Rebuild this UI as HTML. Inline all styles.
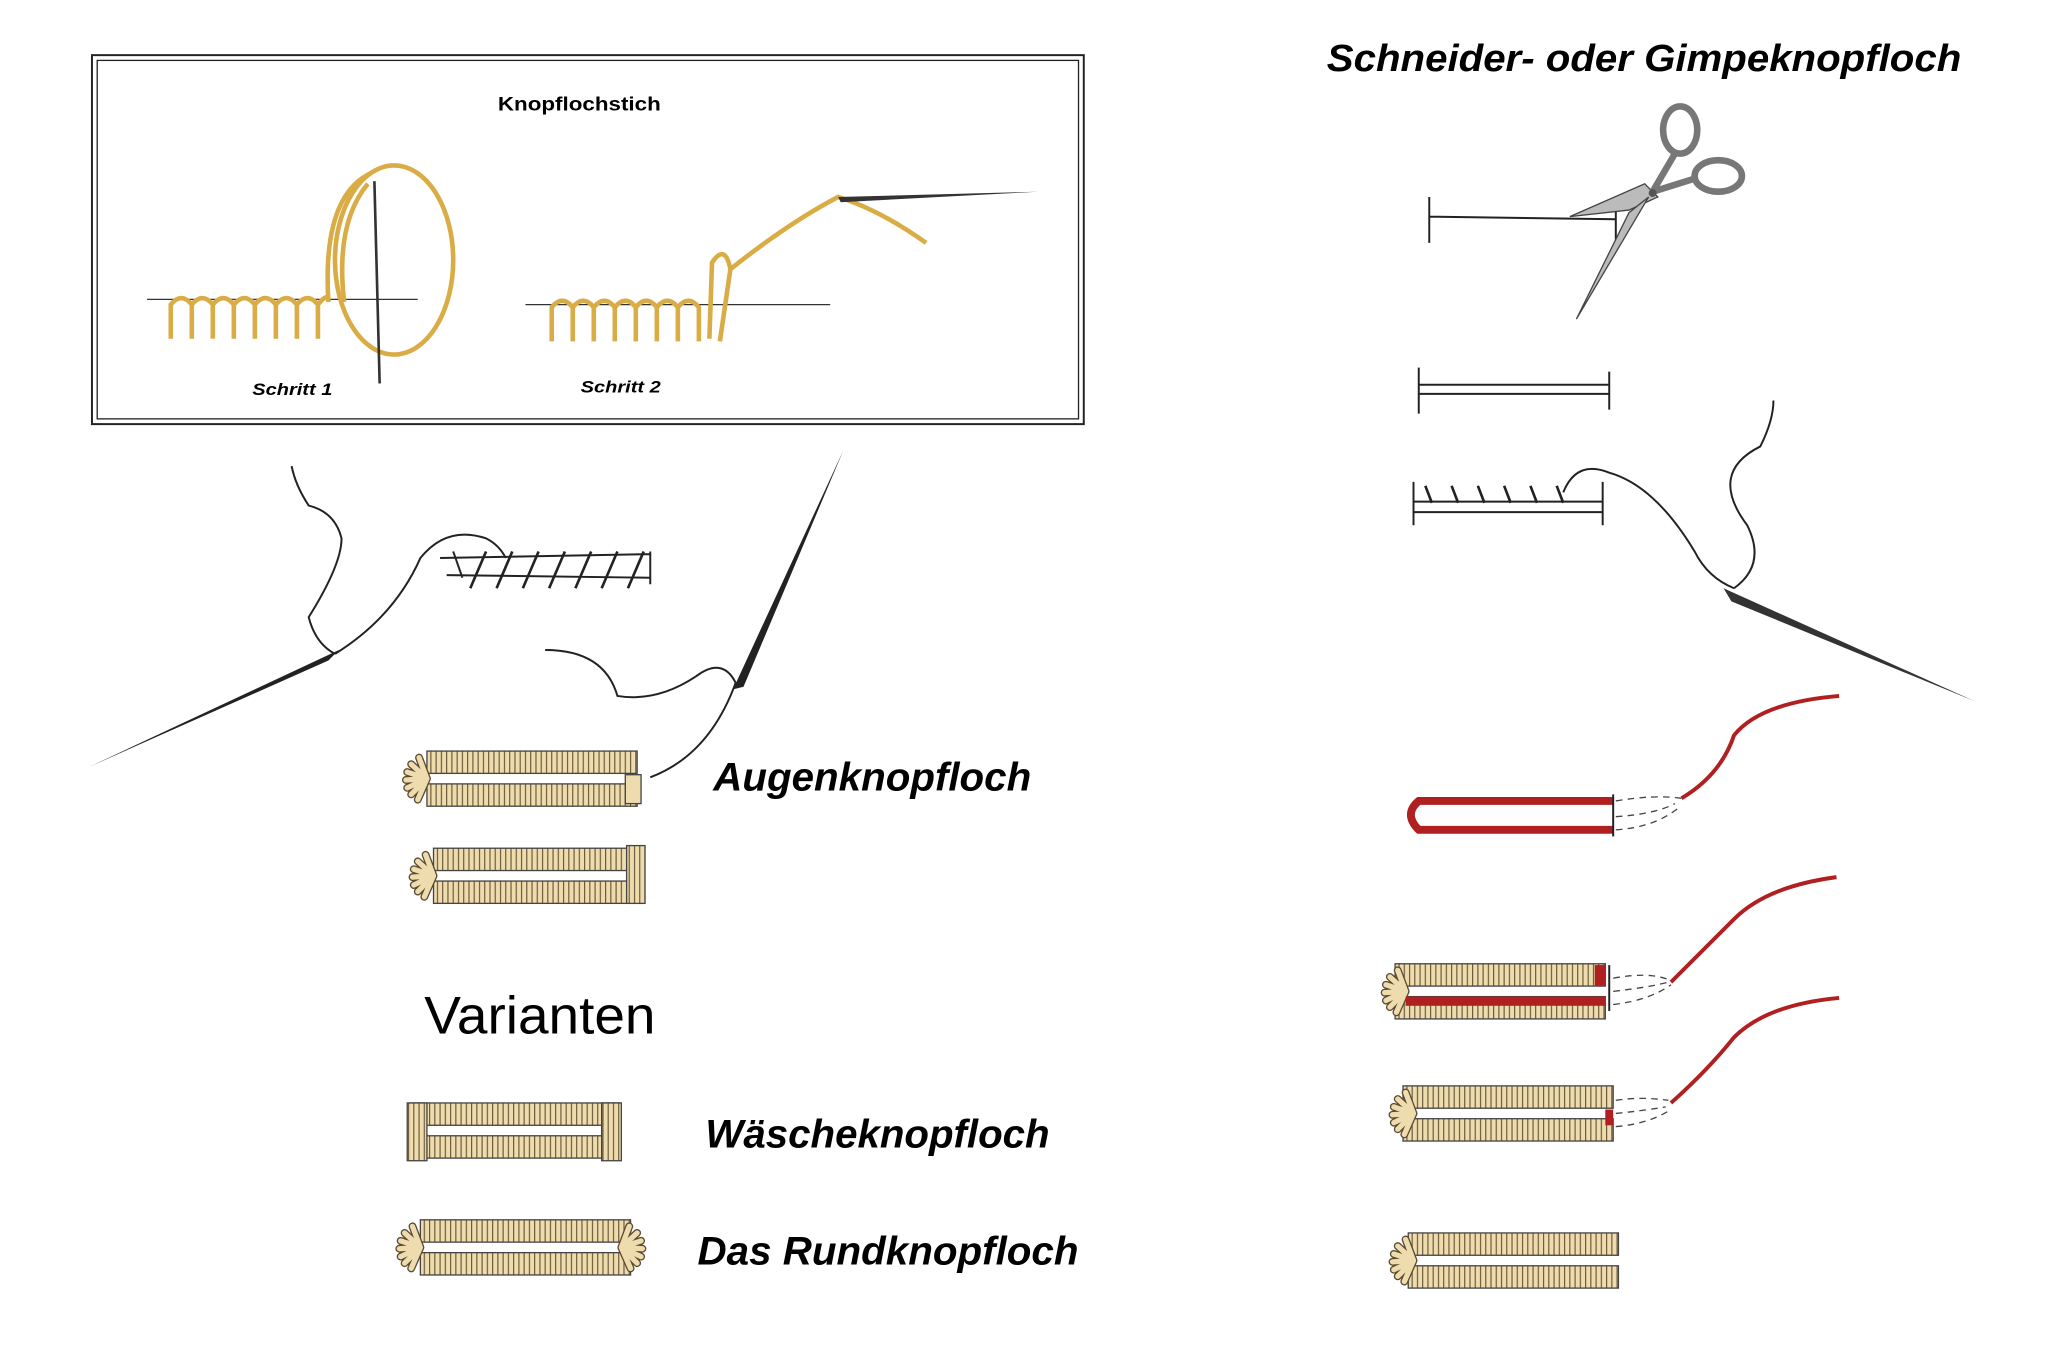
<!DOCTYPE html>
<html><head><meta charset="utf-8"><style>
html,body{margin:0;padding:0;background:#fff}
svg{display:block}
text{font-family:"Liberation Sans",sans-serif}
</style></head><body>
<svg width="2048" height="1359" viewBox="0 0 1559 1035" preserveAspectRatio="none" xmlns="http://www.w3.org/2000/svg">
<defs>
<pattern id="st" width="4" height="20" patternUnits="userSpaceOnUse">
<rect width="4" height="20" fill="#efdcae"/><line x1="3" y1="0" x2="3" y2="20" stroke="#6b5a3a" stroke-width="0.9"/>
</pattern>
<g id="bh">
<rect x="0" y="0" width="160" height="17" fill="url(#st)" stroke="#444" stroke-width="1"/>
<rect x="0" y="25" width="160" height="17" fill="url(#st)" stroke="#444" stroke-width="1"/>
</g>
<g id="fan">
<path d="M8,21 L-4,10 M8,21 L-7,16 M8,21 L-8,22 M8,21 L-7,28 M8,21 L-4,33 M8,21 L1,37 M8,21 L2,5" stroke="#5a4a30" stroke-width="6" stroke-linecap="round"/>
<path d="M8,21 L-4,10 M8,21 L-7,16 M8,21 L-8,22 M8,21 L-7,28 M8,21 L-4,33 M8,21 L1,37 M8,21 L2,5" stroke="#efdcae" stroke-width="4" stroke-linecap="round"/>
</g>
</defs>
<rect width="1559" height="1035" fill="#fff"/>
<rect x="70" y="42" width="755" height="281" fill="none" stroke="#222" stroke-width="1.5"/>
<rect x="74" y="46" width="747" height="273" fill="none" stroke="#222" stroke-width="1"/>
<text x="379" y="84" font-size="15" font-weight="bold" textLength="124" lengthAdjust="spacingAndGlyphs">Knopflochstich</text>
<text x="192" y="301" font-size="13" font-weight="bold" font-style="italic" textLength="61" lengthAdjust="spacingAndGlyphs">Schritt 1</text>
<text x="442" y="299" font-size="13" font-weight="bold" font-style="italic" textLength="61" lengthAdjust="spacingAndGlyphs">Schritt 2</text>
<line x1="112" y1="228" x2="318" y2="228" stroke="#333" stroke-width="1"/>
<path d="M130,258 L130,232 Q138,222 146,232 L146,258 M146,232 Q154,222 162,232 L162,258 M162,232 Q170,222 178,232 L178,258 M178,232 Q186,222 194,232 L194,258 M194,232 Q202,222 210,232 L210,258 M210,232 Q218,222 226,232 L226,258 M226,232 Q234,222 242,232 L242,258 M242,232 Q250,222 250,230" fill="none" stroke="#d9ac45" stroke-width="3.5"/>
<ellipse cx="300" cy="198" rx="45" ry="72" fill="none" stroke="#d9ac45" stroke-width="3.5"/>
<path d="M250,230 Q245,150 282,132 M262,230 Q255,170 280,140" fill="none" stroke="#d9ac45" stroke-width="3.5"/>
<line x1="285" y1="138" x2="289" y2="292" stroke="#333" stroke-width="2"/>
<line x1="400" y1="232" x2="632" y2="232" stroke="#333" stroke-width="1"/>
<path d="M420,260 L420,234 Q428,224 436,234 L436,260 M436,234 Q444,224 452,234 L452,260 M452,234 Q460,224 468,234 L468,260 M468,234 Q476,224 484,234 L484,260 M484,234 Q492,224 500,234 L500,260 M500,234 Q508,224 516,234 L516,260 M516,234 Q524,224 532,234 L532,260 M540,258 L542,200 Q552,185 556,205 L548,260 M556,205 Q600,170 638,150 Q670,160 705,185" fill="none" stroke="#d9ac45" stroke-width="3.5"/>
<path d="M638,150 L790,146 L640,154 Z" fill="#333"/>
<text x="1010" y="54" font-size="29" font-weight="bold" font-style="italic" textLength="483" lengthAdjust="spacingAndGlyphs">Schneider- oder Gimpeknopfloch</text>
<!-- scissors -->
<path d="M1088,150 L1088,185 M1088,165 L1230,167 M1230,155 L1230,185" stroke="#222" stroke-width="1.5" fill="none"/>
<path d="M1195,165 L1252,140 L1262,150 L1240,160 Z" fill="#bbb" stroke="#444"/>
<path d="M1255,150 L1200,243 L1240,162 Z" fill="#bbb" stroke="#444"/>
<path d="M1258,146 L1275,117 M1258,146 L1290,136" stroke="#777" stroke-width="5"/>
<circle cx="1258" cy="147" r="3" fill="#555"/>
<ellipse cx="1279" cy="99" rx="13" ry="18" fill="none" stroke="#777" stroke-width="5"/>
<ellipse cx="1308" cy="134" rx="18" ry="12" fill="none" stroke="#777" stroke-width="5"/>
<path d="M1080,280 L1080,315 M1225,283 L1225,312 M1080,293 L1225,293 M1080,300 L1225,300" stroke="#222" stroke-width="1.5"/>
<path d="M1076,367 L1076,400 M1220,367 L1220,400 M1076,382 L1220,382 M1076,390 L1220,390" stroke="#222" stroke-width="1.5"/>
<path d="M1085,370 L1090,383 M1105,370 L1110,383 M1125,370 L1130,383 M1145,370 L1150,383 M1165,370 L1170,383 M1185,370 L1190,383" stroke="#222" stroke-width="2"/>
<path d="M1190,375 Q1200,350 1225,360 Q1260,370 1290,420 Q1300,440 1320,448 M1320,448 Q1345,430 1330,400 Q1300,360 1340,340 Q1350,320 1350,305" fill="none" stroke="#222" stroke-width="1.5"/>
<path d="M1312,448 L1503,534 L1318,458 Z" fill="#333"/>
<path d="M1228,610 L1080,610 Q1068,620 1080,632 L1228,632" fill="none" stroke="#b02020" stroke-width="6"/>
<path d="M1228,605 L1228,637" stroke="#222" stroke-width="1.5"/>
<path d="M1230,610 Q1260,605 1280,608 M1230,622 Q1260,620 1275,612 M1230,632 Q1260,630 1278,615" fill="none" stroke="#444" stroke-dasharray="5,4"/>
<path d="M1280,608 Q1310,590 1320,560 Q1340,535 1400,530" fill="none" stroke="#b02020" stroke-width="3"/>
<use href="#bh" x="1062" y="734"/>
<use href="#fan" x="1062" y="734"/>
<rect x="1070" y="759" width="152" height="7" fill="#b02020"/>
<rect x="1214" y="735" width="8" height="16" fill="#b02020"/>
<path d="M1225,735 L1225,770" stroke="#222" stroke-width="1.5"/>
<path d="M1228,745 Q1255,740 1270,746 M1228,755 Q1255,752 1270,748 M1228,765 Q1255,762 1272,750" fill="none" stroke="#444" stroke-dasharray="5,4"/>
<path d="M1272,748 Q1300,720 1320,700 Q1345,675 1398,668" fill="none" stroke="#b02020" stroke-width="3"/>
<use href="#bh" x="1068" y="827"/>
<use href="#fan" x="1068" y="827"/>
<rect x="1222" y="845" width="6" height="12" fill="#b02020"/>
<path d="M1230,838 Q1250,835 1270,838 M1230,848 Q1250,846 1268,843 M1230,858 Q1255,856 1272,845" fill="none" stroke="#444" stroke-dasharray="5,4"/>
<path d="M1272,840 Q1300,815 1320,790 Q1345,765 1400,760" fill="none" stroke="#b02020" stroke-width="3"/>
<use href="#bh" x="1072" y="939"/>
<use href="#fan" x="1068" y="939"/>
<path d="M68,584 L258,495 L250,503 Z" fill="#222"/>
<path d="M255,498 Q240,490 235,470 Q260,430 260,410 Q255,390 235,385 Q225,370 222,355 M255,498 Q300,470 320,425 Q340,400 370,410 Q380,415 385,425" fill="none" stroke="#222" stroke-width="1.5"/>
<path d="M335,425 L495,422 M340,438 L495,440 M495,420 L495,445 M345,420 L352,440" stroke="#222" stroke-width="1.5"/>
<path d="M358,448 L370,420 M378,448 L390,420 M398,448 L410,420 M418,448 L430,420 M438,448 L450,420 M458,448 L470,420 M478,448 L490,420" stroke="#222" stroke-width="2"/>
<path d="M642,343 L558,525 L566,523 Z" fill="#222"/>
<path d="M560,520 Q550,500 530,515 Q500,535 470,530 Q460,495 415,495 M560,520 Q540,575 495,592" fill="none" stroke="#222" stroke-width="1.5"/>
<use href="#bh" x="325" y="572"/><use href="#fan" x="317" y="572"/>
<rect x="476" y="590" width="12" height="22" fill="#efdcae" stroke="#444"/>
<use href="#bh" x="330" y="646"/><use href="#fan" x="322" y="646"/>
<rect x="477" y="644" width="14" height="44" fill="url(#st)" stroke="#444"/>
<use href="#bh" x="312" y="840"/>
<rect x="310" y="840" width="15" height="44" fill="url(#st)" stroke="#444"/>
<rect x="458" y="840" width="15" height="44" fill="url(#st)" stroke="#444"/>
<use href="#bh" x="320" y="929"/><use href="#fan" x="312" y="929"/>
<use href="#fan" x="-481" y="929" transform="scale(-1,1)"/>
<text x="543" y="602" font-size="30" font-weight="bold" font-style="italic" textLength="242" lengthAdjust="spacingAndGlyphs">Augenknopfloch</text>
<text x="323" y="787" font-size="40" textLength="176" lengthAdjust="spacingAndGlyphs">Varianten</text>
<text x="537" y="874" font-size="30" font-weight="bold" font-style="italic" textLength="262" lengthAdjust="spacingAndGlyphs">Wäscheknopfloch</text>
<text x="531" y="963" font-size="30" font-weight="bold" font-style="italic" textLength="290" lengthAdjust="spacingAndGlyphs">Das Rundknopfloch</text>
</svg>
</body></html>
